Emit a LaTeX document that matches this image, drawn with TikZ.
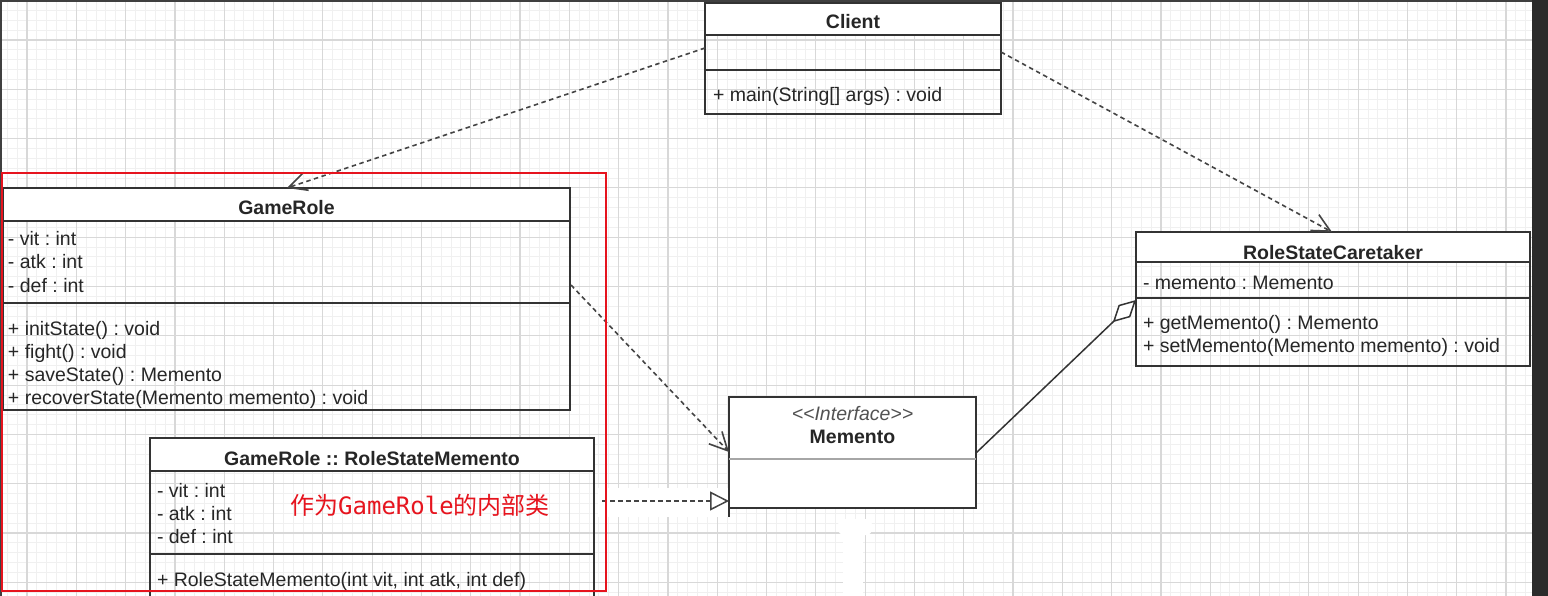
\documentclass[tikz,border=0pt]{standalone}
\usepackage{fontspec}
\setmainfont{Liberation Sans}
\newfontfamily\cjkfont{Noto Sans CJK SC}
\newfontfamily\monofont{DejaVu Sans Mono}
\usetikzlibrary{arrows.meta,calc}
\definecolor{gridmin}{HTML}{F0F0F0}
\definecolor{gridmaj}{HTML}{D8D8D8}
\definecolor{linec}{HTML}{333333}
\definecolor{dashc}{HTML}{444444}
\definecolor{txt}{HTML}{262626}
\definecolor{redc}{HTML}{E6141E}
\definecolor{darkbg}{HTML}{2B2B2B}
\tikzset{
  boxline/.style={draw=linec, line width=1.7pt},
  classframe/.style 2 args={boxline, anchor=north west, minimum width=#1, minimum height=#2, inner sep=0pt, outer sep=0pt},
  headbox/.style 2 args={classframe={#1}{#2}, fill=white},
  memberline/.style={anchor=base west, text=txt},
  classtitle/.style={anchor=base, text=txt, font=\fontsize{19.5}{23}\selectfont\bfseries},
  sepline/.style={draw=linec, line width=1.7pt},
  depend/.style={draw=dashc, line width=1.6pt, dash pattern=on 4.5pt off 3.5pt,
    -{Straight Barb[length=18pt,width=18pt,line width=1.6pt]}},
  realize/.style={draw=dashc, line width=1.6pt, dash pattern=on 4.5pt off 3.5pt,
    -{Triangle[length=19pt,width=19pt,fill=white,line width=1.5pt]}},
  aggreg/.style={draw=linec, line width=1.5pt,
    -{Diamond[length=32pt,width=17pt,fill=white,line width=1.5pt]}},
  minorline/.style={draw=gridmin, line width=0.9pt},
  majorline/.style={draw=gridmaj, line width=1.2pt},
}
\begin{document}
\frenchspacing
\begin{tikzpicture}[x=1pt,y=-1pt,
  every node/.style={font=\fontsize{19.5}{23}\selectfont, text=txt, inner sep=0pt, outer sep=0pt}]
\useasboundingbox (0,0) rectangle (1548,596);
\clip (0,0) rectangle (1548,596);
% background and grid
\fill[white] (0,0) rectangle (1548,596);
\foreach \i in {-2,...,153} \draw[minorline] ({27+9.86*\i},0) -- ({27+9.86*\i},596);
\foreach \j in {-4,...,57} \draw[minorline] (0,{40+9.86*\j}) -- (1548,{40+9.86*\j});
\foreach \i in {0,...,31} \draw[majorline] ({27+49.3*\i},0) -- ({27+49.3*\i},596);
\foreach \j in {0,...,11} \draw[majorline] (0,{40+49.3*\j}) -- (1548,{40+49.3*\j});
\fill[darkbg] (1532,0) rectangle (1548,596);
\fill[darkbg!90] (0,0) rectangle (1532,2.5);
\fill[darkbg!90] (0,0) rectangle (1.5,596);
% white patches
\fill[white] (598,488) rectangle (729,517);
\fill[white, rounded corners=6pt] (838,519) rectangle (872,535);
\fill[white] (843,528) rectangle (863,596);

% Client
\node[headbox={296pt}{32pt}] (clienthead) at (705,3) {};
\node[classframe={296pt}{111pt}] (client) at (705,3) {};
\draw[sepline] (client.west |- 0,70) -- (client.east |- 0,70);
\node[classtitle] (clientname) at (853,29) {Client};
\node[memberline] (clientm1) at (713,102) {+ main(String[] args) : void};

% GameRole
\node[headbox={567pt}{33pt}] (grhead) at (3,188) {};
\node[classframe={567pt}{222pt}] (gr) at (3,188) {};
\draw[sepline] (gr.west |- 0,303) -- (gr.east |- 0,303);
\node[classtitle] (grname) at (286.5,215) {GameRole};
\node[memberline] (gra1) at (8,246) {- vit : int};
\node[memberline] (gra2) at (8,269) {- atk : int};
\node[memberline] (gra3) at (8,292) {- def : int};
\node[memberline] (grm1) at (8,335) {+ initState() : void};
\node[memberline] (grm2) at (8,358) {+ fight() : void};
\node[memberline] (grm3) at (8,381) {+ saveState() : Memento};
\node[memberline] (grm4) at (8,404) {+ recoverState(Memento memento) : void};

% GameRole :: RoleStateMemento
\node[headbox={444pt}{33pt}] (rsmhead) at (150,438) {};
\node[classframe={444pt}{170pt}] (rsm) at (150,438) {};
\draw[sepline] (rsm.west |- 0,554) -- (rsm.east |- 0,554);
\node[classtitle] (rsmname) at (372,465) {GameRole :: RoleStateMemento};
\node[memberline] (rsma1) at (157,497) {- vit : int};
\node[memberline] (rsma2) at (157,520) {- atk : int};
\node[memberline] (rsma3) at (157,543) {- def : int};
\node[memberline] (rsmm1) at (157,586) {+ RoleStateMemento(int vit, int atk, int def)};
\node[text=redc, font=\cjkfont\fontsize{24}{28}\selectfont] (note) at (420,505) {作为{\monofont GameRole}的内部类};

% Memento
\node[classframe={247pt}{111pt}, fill=white] (mem) at (729,397) {};
\draw[draw=gray!70, line width=1.2pt] (mem.west |- 0,459) -- (mem.east |- 0,459);
\draw[boxline] (mem.south west) -- ++(0,9);
\node[anchor=base, text=linec!85, font=\fontsize{19.5}{23}\selectfont\itshape] (memstereo) at (852.5,420) {<\kern0pt<Interface>\kern0pt>};
\node[classtitle] (memname) at (852.5,443) {Memento};

% RoleStateCaretaker
\node[headbox={394pt}{30pt}] (rschead) at (1136,232) {};
\node[classframe={394pt}{134pt}] (rsc) at (1136,232) {};
\draw[sepline] (rsc.west |- 0,298) -- (rsc.east |- 0,298);
\node[classtitle] (rscname) at (1333,259) {RoleStateCaretaker};
\node[memberline] (rsca1) at (1143,290) {- memento : Memento};
\node[memberline] (rscm1) at (1143,329) {+ getMemento() : Memento};
\node[memberline] (rscm2) at (1143,352) {+ setMemento(Memento memento) : void};

% connector ends
\coordinate (p1a) at ($(client.north west)+(0,45)$);
\coordinate (p1b) at (gr.north -| 287,0);
\coordinate (p2a) at ($(client.north east)+(0,49)$);
\coordinate (p2b) at (rsc.north -| 1332,0);
\coordinate (p3a) at ($(gr.north east)+(1,97)$);
\coordinate (p3b) at ($(mem.north west)+(0,55)$);
\coordinate (p4a) at ($(rsm.north east)+(8,63)$);
\coordinate (p4b) at ($(mem.north west)+(0,104)$);
\coordinate (p5a) at ($(mem.north east)+(0,56)$);
\coordinate (p5b) at ($(rsc.north west)+(0,68)$);

% connectors
\draw[depend] (p1a) -- (p1b);
\draw[depend] (p2a) -- (p2b);
\draw[depend] (p3a) -- (p3b);
\draw[realize] (p4a) -- (p4b);
\draw[aggreg] (p5a) -- (p5b);

% red frame
\draw[draw=redc, line width=2pt] (2,173) rectangle (606,591);
\end{tikzpicture}
\end{document}
